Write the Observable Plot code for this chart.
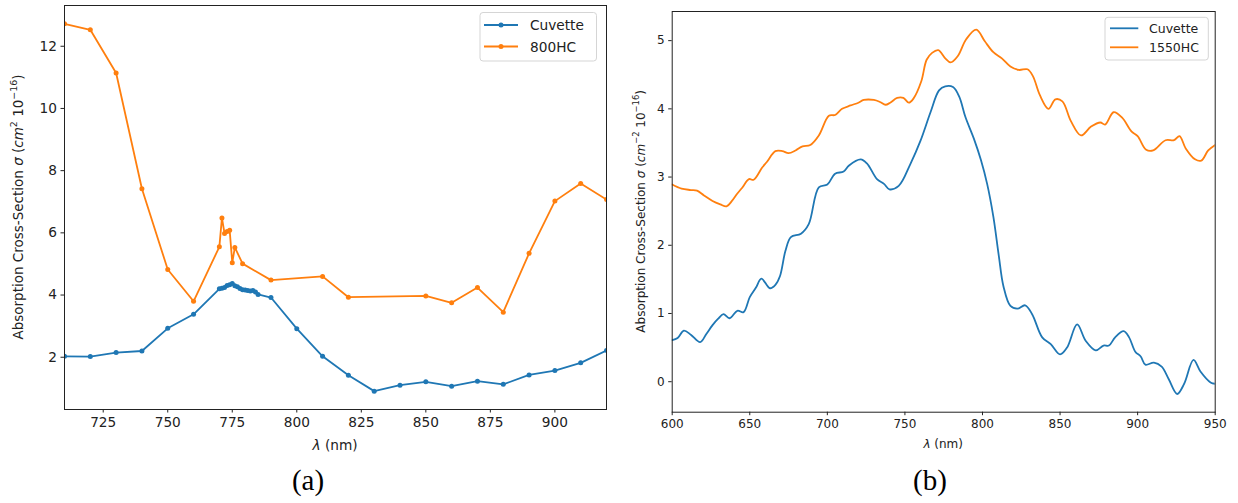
<!DOCTYPE html>
<html>
<head>
<meta charset="utf-8">
<script src="https://cdn.jsdelivr.net/npm/d3@7"></script>
<script src="https://cdn.jsdelivr.net/npm/@observablehq/plot@0.6"></script>
<style>
  body { margin: 0; background: #fff; }
  #wrap { position: relative; width: 1238px; height: 503px; overflow: hidden; background: #fff; }
  .panel { position: absolute; top: 0; }
  .cap { position: absolute; font-family: "Liberation Serif", "DejaVu Serif", serif; font-size: 29px; color: #000; transform: translateX(-50%); }
</style>
</head>
<body>
<div id="wrap">
  <div id="left" class="panel" style="left:0px"></div>
  <div id="right" class="panel" style="left:620px"></div>
  <div class="cap" style="left:308px; top:464px">(a)</div>
  <div class="cap" style="left:930px; top:464px">(b)</div>
</div>
<script>
// ---------- Panel (a) data ----------
const leftWavelengthCuvette = [710, 720, 730, 740, 750, 760, 770, 771, 772, 773, 774, 775, 776, 777, 778, 779, 780, 781, 782, 783, 784, 785, 790, 800, 810, 820, 830, 840, 850, 860, 870, 880, 890, 900, 910, 920];
const leftSigmaCuvette      = [2.03, 2.02, 2.15, 2.20, 2.93, 3.38, 4.20, 4.22, 4.24, 4.31, 4.33, 4.37, 4.30, 4.27, 4.21, 4.17, 4.16, 4.15, 4.13, 4.15, 4.10, 4.02, 3.92, 2.92, 2.03, 1.42, 0.91, 1.10, 1.21, 1.07, 1.23, 1.13, 1.43, 1.57, 1.82, 2.22];
const leftWavelength800HC   = [710, 720, 730, 740, 750, 760, 770, 771, 772, 773, 774, 775, 776, 779, 790, 810, 820, 850, 860, 870, 880, 890, 900, 910, 920];
const leftSigma800HC        = [12.72, 12.53, 11.14, 7.42, 4.82, 3.80, 5.55, 6.48, 5.98, 6.04, 6.08, 5.04, 5.53, 5.01, 4.48, 4.60, 3.93, 3.97, 3.75, 4.24, 3.45, 5.34, 7.02, 7.59, 7.07];
const leftXTicks = [725, 750, 775, 800, 825, 850, 875, 900];
const leftYTicks = [2, 4, 6, 8, 10, 12];
const leftLegend = ["Cuvette", "800HC"];

// ---------- Panel (b) data ----------
const rightWavelengthCuvette = [600, 603.5, 607.5, 612, 618, 622, 626, 629.5, 633, 637, 642, 646, 650, 654, 657.5, 663, 666.5, 669.5, 673, 676.5, 683, 688, 694.5, 700, 705, 710.5, 714, 721.5, 725.5, 732, 736.5, 740, 746, 753.5, 760, 766.5, 772, 776, 781, 785, 789, 794.5, 799, 803, 807, 810.5, 813.5, 818, 822.5, 827.5, 832, 838.5, 844, 850, 854.5, 861, 866.5, 873, 878, 881.5, 885.5, 891, 894.5, 898.5, 902, 905, 910.5, 915.5, 920, 925.5, 930, 936, 940.5, 947, 950];
const rightSigmaCuvette      = [0.61, 0.64, 0.75, 0.69, 0.58, 0.70, 0.83, 0.92, 0.99, 0.93, 1.04, 1.02, 1.24, 1.38, 1.51, 1.37, 1.42, 1.55, 1.92, 2.12, 2.17, 2.31, 2.85, 2.89, 3.05, 3.08, 3.17, 3.26, 3.20, 2.97, 2.90, 2.82, 2.87, 3.19, 3.53, 3.95, 4.27, 4.33, 4.32, 4.18, 3.88, 3.56, 3.25, 2.90, 2.42, 1.85, 1.40, 1.11, 1.07, 1.12, 0.99, 0.65, 0.55, 0.40, 0.50, 0.84, 0.60, 0.46, 0.53, 0.53, 0.65, 0.74, 0.65, 0.44, 0.37, 0.25, 0.28, 0.22, 0.04, -0.18, -0.03, 0.32, 0.15, -0.01, -0.03];
const rightWavelength1550HC  = [600, 606, 612, 616, 620.5, 626, 631, 635, 638.5, 642, 645, 649.5, 652.5, 658, 661, 666.5, 671, 675, 679.5, 684, 689, 694.5, 701, 705, 709.5, 715, 720, 723.5, 730, 734, 737.5, 740.5, 745, 749, 752.5, 755.5, 760.5, 764, 767.5, 771.5, 776, 779.5, 784, 789.5, 796, 801.5, 807, 812.5, 818, 823.5, 829, 832.5, 837, 842.5, 847, 851.5, 857, 863.5, 870, 876, 879, 884.5, 890, 896, 900, 905.5, 910, 918, 923.5, 927, 931, 937, 941, 945.5, 950];
const rightSigma1550HC       = [2.89, 2.83, 2.81, 2.80, 2.73, 2.65, 2.60, 2.57, 2.65, 2.76, 2.84, 2.97, 2.96, 3.14, 3.22, 3.38, 3.38, 3.35, 3.39, 3.45, 3.47, 3.61, 3.90, 3.91, 4.00, 4.05, 4.09, 4.13, 4.13, 4.10, 4.06, 4.09, 4.16, 4.16, 4.09, 4.15, 4.40, 4.72, 4.82, 4.86, 4.74, 4.68, 4.77, 5.02, 5.16, 4.99, 4.83, 4.74, 4.62, 4.57, 4.58, 4.48, 4.20, 4.00, 4.14, 4.11, 3.82, 3.61, 3.74, 3.80, 3.77, 3.95, 3.87, 3.67, 3.60, 3.40, 3.39, 3.54, 3.54, 3.60, 3.42, 3.26, 3.24, 3.39, 3.47];
const rightXTicks = [600, 650, 700, 750, 800, 850, 900, 950];
const rightYTicks = [0, 1, 2, 3, 4, 5];
const rightLegend = ["Cuvette", "1550HC"];

const BLUE = "#1f77b4", ORANGE = "#ff7f0e";
const intFmt = d => String(d);

const toRows = (xs, ys) => xs.map((x, i) => ({x, y: ys[i]}));
function padded(values, frac = 0.05) {
  const [a, b] = d3.extent(values);
  const p = (b - a) * frac;
  return [a - p, b + p];
}

function addYLabel(svg, x, y, sup1, fs) {
  const t = d3.select(svg).append("text")
    .attr("transform", `translate(${x},${y}) rotate(-90)`)
    .attr("text-anchor", "middle")
    .attr("dominant-baseline", "middle")
    .attr("font-family", "DejaVu Sans")
    .attr("font-size", fs)
    .attr("fill", "#222");
  t.append("tspan").text("Absorption Cross-Section ");
  t.append("tspan").attr("font-style", "italic").text("σ");
  t.append("tspan").text(" (");
  t.append("tspan").attr("font-style", "italic").text("cm");
  t.append("tspan").attr("font-size", fs * 0.7).attr("dy", -fs * 0.4).text(sup1);
  t.append("tspan").attr("dy", fs * 0.4).text(" 10");
  t.append("tspan").attr("font-size", fs * 0.7).attr("dy", -fs * 0.4).text("−16");
  t.append("tspan").attr("dy", fs * 0.4).text(")");
}
function addXLabel(svg, x, y, fs) {
  const t = d3.select(svg).append("text")
    .attr("x", x).attr("y", y)
    .attr("text-anchor", "middle")
    .attr("font-family", "DejaVu Sans")
    .attr("font-size", fs)
    .attr("fill", "#222");
  t.append("tspan").attr("font-style", "italic").text("λ");
  t.append("tspan").text(" (nm)");
}
function addLegend(svg, box, names, colors, withDots, fs) {
  const g = d3.select(svg).append("g").attr("text-anchor", "start");
  g.append("rect").attr("x", box.x).attr("y", box.y).attr("width", box.w).attr("height", box.h)
    .attr("rx", 3).attr("fill", "#fff").attr("fill-opacity", 0.85).attr("stroke", "#d5d5d5").attr("stroke-width", 1);
  names.forEach((n, i) => {
    const yy = box.rows[i];
    g.append("line").attr("x1", box.lx0).attr("x2", box.lx1).attr("y1", yy).attr("y2", yy)
      .attr("stroke", colors[i]).attr("stroke-width", 1.8);
    if (withDots) g.append("circle").attr("cx", (box.lx0 + box.lx1) / 2).attr("cy", yy).attr("r", 2.5).attr("fill", colors[i]);
    g.append("text").attr("x", box.tx).attr("y", yy).attr("dominant-baseline", "central")
      .attr("text-anchor", "start")
      .attr("font-family", "DejaVu Sans").attr("font-size", fs).attr("fill", "#222").text(n);
  });
}

// ---------- Panel (a) ----------
{
  const cuv = toRows(leftWavelengthCuvette, leftSigmaCuvette);
  const hc = toRows(leftWavelength800HC, leftSigma800HC);
  const W = 620, H = 460, mL = 64, mR = 14, mT = 5, mB = 51;
  const chart = Plot.plot({
    width: W, height: H,
    marginLeft: mL, marginRight: mR, marginTop: mT, marginBottom: mB,
    style: {fontFamily: "DejaVu Sans", fontSize: "13.7px", color: "#222", background: "transparent", overflow: "visible"},
    x: {domain: [d3.min(leftWavelengthCuvette), d3.max(leftWavelengthCuvette)]},
    y: {domain: padded([...leftSigmaCuvette, ...leftSigma800HC])},
    marks: [
      Plot.axisX(leftXTicks, {tickSize: 3.5, tickPadding: 4, label: null, tickFormat: intFmt}),
      Plot.axisY(leftYTicks, {tickSize: 3.5, tickPadding: 4, label: null, tickFormat: intFmt}),
      Plot.line(cuv, {x: "x", y: "y", stroke: BLUE, strokeWidth: 1.8, clip: true}),
      Plot.dot(cuv, {x: "x", y: "y", r: 2.5, fill: BLUE, clip: true}),
      Plot.line(hc, {x: "x", y: "y", stroke: ORANGE, strokeWidth: 1.8, clip: true}),
      Plot.dot(hc, {x: "x", y: "y", r: 2.5, fill: ORANGE, clip: true}),
      Plot.frame({stroke: "#222", strokeWidth: 1})
    ]
  });
  document.getElementById("left").appendChild(chart);
  addYLabel(chart, 19, (mT + H - mB) / 2, "2", 13.5);
  addXLabel(chart, (mL + W - mR) / 2, 450, 13.7);
  addLegend(chart, {x: 480, y: 12.5, w: 116.5, h: 48.5, rows: [25, 46.5], lx0: 484, lx1: 518, tx: 530},
    leftLegend, [BLUE, ORANGE], true, 13.7);
}

// ---------- Panel (b) ----------
{
  const cuv = toRows(rightWavelengthCuvette, rightSigmaCuvette);
  const hc = toRows(rightWavelength1550HC, rightSigma1550HC);
  const W = 618, H = 460, mL = 51.7, mR = 23.3, mT = 11, mB = 48.3;
  const chart = Plot.plot({
    width: W, height: H,
    marginLeft: mL, marginRight: mR, marginTop: mT, marginBottom: mB,
    style: {fontFamily: "DejaVu Sans", fontSize: "12px", color: "#222", background: "transparent", overflow: "visible"},
    x: {domain: [d3.min(rightWavelengthCuvette), d3.max(rightWavelengthCuvette)]},
    y: {domain: padded([...rightSigmaCuvette, ...rightSigma1550HC])},
    marks: [
      Plot.axisX(rightXTicks, {tickSize: 3.5, tickPadding: 4, label: null, tickFormat: intFmt}),
      Plot.axisY(rightYTicks, {tickSize: 3.5, tickPadding: 4, label: null, tickFormat: intFmt}),
      Plot.line(cuv, {x: "x", y: "y", stroke: BLUE, strokeWidth: 1.8, curve: "catmull-rom", clip: true}),
      Plot.line(hc, {x: "x", y: "y", stroke: ORANGE, strokeWidth: 1.8, curve: "catmull-rom", clip: true}),
      Plot.frame({stroke: "#222", strokeWidth: 1})
    ]
  });
  document.getElementById("right").appendChild(chart);
  addYLabel(chart, 20.5, (mT + H - mB) / 2, "−2", 12);
  addXLabel(chart, (mL + W - mR) / 2, 448, 12);
  addLegend(chart, {x: 485, y: 17.3, w: 103.3, h: 42.7, rows: [28.3, 47.3], lx0: 490, lx1: 518.3, tx: 529},
    rightLegend, [BLUE, ORANGE], false, 12.5);
}
</script>
</body>
</html>
